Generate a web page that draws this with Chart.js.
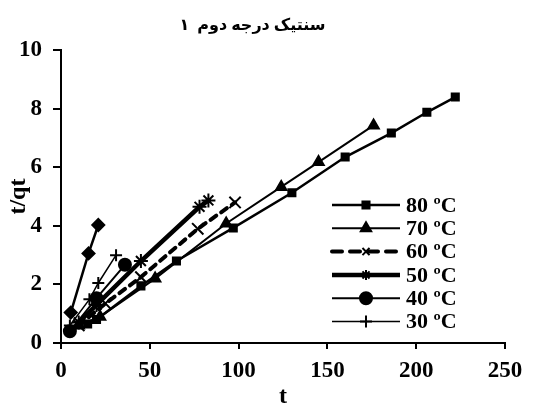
<!DOCTYPE html>
<html lang="fa">
<head>
    <meta charset="UTF-8">
    <title>t/qt</title>
    <script src="https://cdn.jsdelivr.net/npm/chart.js@4.4.1/dist/chart.umd.min.js"></script>
    <style>
        html, body { margin: 0; padding: 0; background: #fff; }
        #wrap { width: 537px; height: 406px; }
    </style>
</head>
<body>
<div id="wrap"><canvas id="kin"></canvas></div>
<script>
    // values
    let t80 = [15, 20, 45, 65, 97, 130, 160, 186, 206, 222];
    let q80 = [0.65, 0.8, 1.95, 2.8, 3.93, 5.13, 6.35, 7.17, 7.88, 8.4];
    let t70 = [10, 22, 53, 93, 124, 145, 176];
    let q70 = [0.6, 0.9, 2.2, 4.08, 5.33, 6.18, 7.43];
    let t60 = [10, 25, 45, 77, 98];
    let q60 = [0.6, 1.35, 2.25, 3.9, 4.8];
    let t50 = [10, 20, 45, 78, 83];
    let q50 = [0.7, 1.3, 2.8, 4.65, 4.87];
    let t40 = [5, 20, 36];
    let q40 = [0.4, 1.53, 2.67];
    let t30 = [5, 16, 21, 31];
    let q30 = [0.6, 1.49, 2.05, 3.0];
    let tX = [5.5, 15.5, 21];    // diamond series, no legend entry
    let qX = [1.04, 3.06, 4.03];

    let xTicks = [0, 50, 100, 150, 200, 250];
    let yTicks = [0, 2, 4, 6, 8, 10];

    function pts(xs, ys) {
        return xs.map((x, i) => ({x: x, y: ys[i]}));
    }

    const serif = 'Liberation Serif, Times New Roman, DejaVu Serif';

    function ds(label, xs, ys, style, r, w, dash, legend, lr) {
        return {
            label: label,
            data: pts(xs, ys),
            borderColor: '#000',
            backgroundColor: '#000',
            borderWidth: w,
            borderDash: dash || [],
            borderCapStyle: dash ? 'round' : 'butt',
            pointStyle: style,
            pointRadius: r,
            pointBorderWidth: 2,
            pointBorderColor: '#000',
            pointBackgroundColor: '#000',
            tension: 0,
            fill: false,
            clip: false,
            showInLegend: legend,
            legendRadius: lr
        };
    }

    let sets = [
        ds('80 ºC', t80, q80, 'rect', 5, 2.5, null, true, 5),
        ds('70 ºC', t70, q70, 'triangle', 6, 2, null, true, 6),
        ds('60 ºC', t60, q60, 'crossRot', 8, 4, [7, 6], true, 5),
        ds('50 ºC', t50, q50, 'star', 7, 4.5, null, true, 5),
        ds('40 ºC', t40, q40, 'circle', 6, 2, null, true, 6),
        ds('30 ºC', t30, q30, 'cross', 6, 1.5, null, true, 6),
        ds('', tX, qX, 'rectRot', 6, 2.5, null, false, 0)
    ];

    // legend drawn inside the plot: line with the marker in the middle
    const insideLegend = {
        id: 'insideLegend',
        afterDraw(chart) {
            const c = chart.ctx;
            let x0 = 332, x1 = 400, y = 205, step = 23.3;
            c.save();
            chart.data.datasets.forEach(d => {
                if (!d.showInLegend) return;
                c.strokeStyle = '#000';
                c.lineWidth = d.borderWidth;
                c.setLineDash(d.borderDash.length ? [10, 8] : []);
                c.lineCap = d.borderDash.length ? 'round' : 'butt';
                c.beginPath();
                c.moveTo(x0, y);
                c.lineTo(x1, y);
                c.stroke();
                c.setLineDash([]);
                c.lineCap = 'butt';
                c.lineWidth = 2;
                c.fillStyle = '#000';
                Chart.helpers.drawPoint(c, {
                    pointStyle: d.pointStyle,
                    radius: d.legendRadius,
                    rotation: 0,
                    borderWidth: 2
                }, (x0 + x1) / 2, y);
                c.font = 'bold 22px ' + serif;
                c.textAlign = 'left';
                c.textBaseline = 'middle';
                c.fillText(d.label, 406, y + 1);
                y += step;
            });
            c.restore();
        }
    };

    new Chart(document.getElementById('kin'), {
        type: 'line',
        data: { datasets: sets },
        plugins: [insideLegend],
        options: {
            responsive: true,
            maintainAspectRatio: false,
            animation: false,
            layout: { padding: { left: 0, right: 32, top: 0, bottom: 0 } },
            plugins: {
                legend: { display: false },
                tooltip: { enabled: false },
                title: {
                    display: true,
                    text: 'سنتیک درجه دوم  ۱',
                    color: '#000',
                    font: { family: 'Liberation Serif, DejaVu Sans', size: 16, weight: 'bold' },
                    padding: { top: 16, bottom: 15 }
                }
            },
            scales: {
                x: {
                    type: 'linear',
                    min: 0,
                    max: 250,
                    afterFit: s => { s.height = 63; },
                    afterBuildTicks: s => { s.ticks = xTicks.map(v => ({value: v})); },
                    border: { color: '#000', width: 2 },
                    grid: { drawOnChartArea: false, color: '#000', lineWidth: 2, tickLength: 6 },
                    ticks: { color: '#000', padding: 8, maxRotation: 0, font: { family: serif, size: 23, weight: 'bold' } },
                    title: {
                        display: true,
                        text: 't',
                        color: '#000',
                        padding: { top: 0, bottom: -5 },
                        font: { family: serif, size: 24, weight: 'bold' }
                    }
                },
                y: {
                    type: 'linear',
                    min: 0,
                    max: 10,
                    afterFit: s => { s.width = 61; },
                    afterBuildTicks: s => { s.ticks = yTicks.map(v => ({value: v})); },
                    border: { color: '#000', width: 2 },
                    grid: { drawOnChartArea: false, color: '#000', lineWidth: 2, tickLength: 8 },
                    ticks: { color: '#000', padding: 11, font: { family: serif, size: 23, weight: 'bold' } },
                    title: {
                        display: true,
                        text: 't/qt',
                        color: '#000',
                        padding: { top: 4, bottom: 0 },
                        font: { family: serif, size: 24, weight: 'bold' }
                    }
                }
            }
        }
    });
</script>
</body>
</html>
